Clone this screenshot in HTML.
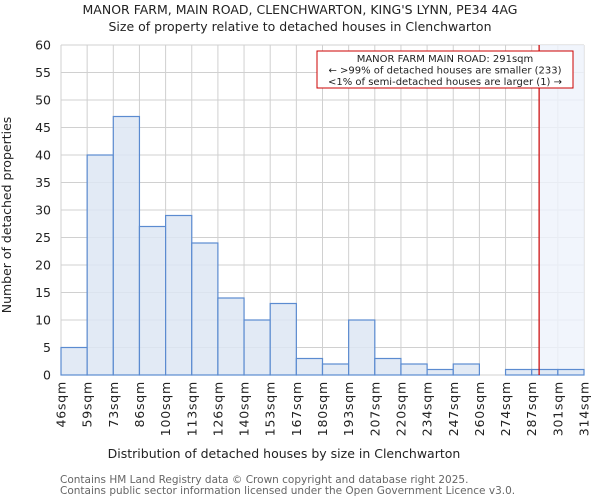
<!DOCTYPE html>
<html><head><meta charset="utf-8"><style>
body{margin:0;background:#fff;font-family:"DejaVu Sans","Liberation Sans",sans-serif}
</style></head><body>
<svg width="600" height="500" xmlns="http://www.w3.org/2000/svg" font-family="DejaVu Sans, Liberation Sans, sans-serif">
<text x="300" y="14" text-anchor="middle" font-size="12.5" fill="#222">MANOR FARM, MAIN ROAD, CLENCHWARTON, KING'S LYNN, PE34 4AG</text>
<text x="300" y="31" text-anchor="middle" font-size="12.5" fill="#222">Size of property relative to detached houses in Clenchwarton</text>
<g id="grid"></g>
<rect id="shade" fill="#eef2fb" opacity="0.8"></rect>
<g id="bars"></g>
<g id="axes"></g>
<line id="marker" stroke="#cc0000" stroke-width="1.2"></line>
<g>
<rect x="317" y="51" width="256" height="37" fill="#fff" stroke="#cc0000" stroke-width="1"></rect>
<text x="445" y="62" text-anchor="middle" font-size="10" fill="#222">MANOR FARM MAIN ROAD: 291sqm</text>
<text x="445" y="73.5" text-anchor="middle" font-size="10" fill="#222">← &gt;99% of detached houses are smaller (233)</text>
<text x="445" y="85" text-anchor="middle" font-size="10" fill="#222">&lt;1% of semi-detached houses are larger (1) →</text>
</g>
<text x="284" y="458" text-anchor="middle" font-size="12.5" fill="#222">Distribution of detached houses by size in Clenchwarton</text>
<text transform="translate(11,215) rotate(-90)" text-anchor="middle" font-size="12.5" fill="#222">Number of detached properties</text>
<text x="60" y="483" font-size="10.5" fill="#666">Contains HM Land Registry data © Crown copyright and database right 2025.</text>
<text x="60" y="494" font-size="10.5" fill="#666">Contains public sector information licensed under the Open Government Licence v3.0.</text>
</svg>
<script>
const edgeLabels=["46sqm","59sqm","73sqm","86sqm","100sqm","113sqm","126sqm","140sqm","153sqm","167sqm","180sqm","193sqm","207sqm","220sqm","234sqm","247sqm","260sqm","274sqm","287sqm","301sqm","314sqm"];
const counts=[5,40,47,27,29,24,14,10,13,3,2,10,3,2,1,2,0,1,1,1];
const yTicks=[0,5,10,15,20,25,30,35,40,45,50,55,60];
const markerValue=291;
const xMinVal=46, xMaxVal=314;
const L=61,R=584,T=45,B=375,yMax=60;
const NS="http://www.w3.org/2000/svg";
const bw=(R-L)/counts.length;
const xi=i=>L+i*bw;
const y=v=>B-(v/yMax)*(B-T);
const xv=v=>L+(v-xMinVal)/(xMaxVal-xMinVal)*(R-L);
function mk(tag,attrs,parent){const e=document.createElementNS(NS,tag);for(const k in attrs)e.setAttribute(k,attrs[k]);document.getElementById(parent).appendChild(e);return e;}
yTicks.forEach(t=>{
 const g=mk('line',{x1:L,x2:R,y1:y(t),y2:y(t),stroke:'#d0d0d0','stroke-width':1},'grid');
 
 
 const tx=mk('text',{x:L-10,y:y(t)+4.5,'text-anchor':'end','font-size':12.5,fill:'#222'},'axes');
 tx.textContent=t;
 
 
});
edgeLabels.forEach((lab,i)=>{
 const g=mk('line',{x1:xi(i),x2:xi(i),y1:T,y2:B,stroke:'#d0d0d0','stroke-width':1},'grid');
 
 
 const tx=mk('text',{transform:`translate(${xi(i)+4.5},381) rotate(-90)`,'text-anchor':'end','font-size':12.5,fill:'#222','letter-spacing':'0.8'},'axes');
 tx.textContent=lab;
 
 
});
const mx=xv(markerValue);
const sh=document.getElementById('shade');
sh.setAttribute('x',mx);sh.setAttribute('y',T);sh.setAttribute('width',R-mx);sh.setAttribute('height',B-T);
counts.forEach((c,i)=>{
 if(c<=0)return;
 const r=mk('rect',{x:xi(i),y:y(c),width:bw,height:B-y(c),fill:'#dde6f3',stroke:'#5b8bd0','stroke-width':1.2,'fill-opacity':0.85},'bars');
 
 
});
const m=document.getElementById('marker');
m.setAttribute('x1',mx);m.setAttribute('x2',mx);m.setAttribute('y1',T);m.setAttribute('y2',B);
</script>
</body></html>
